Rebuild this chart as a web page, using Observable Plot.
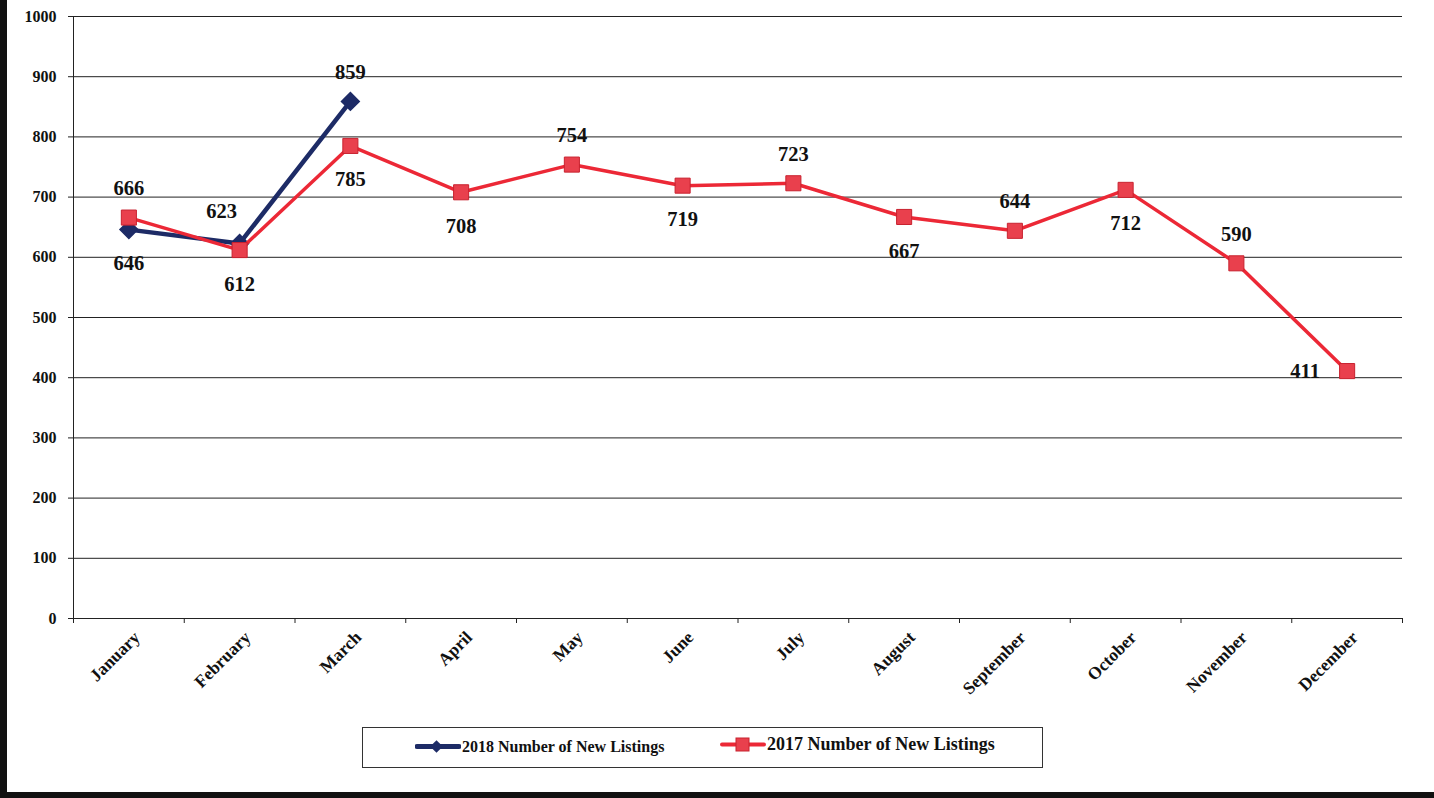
<!DOCTYPE html>
<html>
<head>
<meta charset="utf-8">
<script src="https://cdn.jsdelivr.net/npm/d3@7"></script>
<script src="https://cdn.jsdelivr.net/npm/@observablehq/plot@0.6"></script>
<style>
  html, body { margin: 0; padding: 0; background: #fff; }
  body { width: 1434px; height: 798px; position: relative; overflow: hidden; font-family: "Liberation Serif", "Times New Roman", serif; }
  #chart { position: absolute; left: 0; top: 0; }
  #chart g[aria-label="y-axis tick label"] text { font-size: 16px !important; font-weight: bold; }
  #chart g[aria-label="x-axis tick label"] text { font-size: 17.5px !important; font-weight: bold; }
  #legend { position: absolute; left: 362px; top: 727px; width: 679px; height: 39px; border: 1px solid #333; background: #fff; }
  .item { position: absolute; display: flex; align-items: center; font-weight: bold; color: #111; white-space: nowrap; }
  .item svg { margin-right: 1px; }
  #edgeL { position: absolute; left: 0; top: 0; width: 7px; height: 798px; background: #111; }
  #edgeB { position: absolute; left: 0; top: 792px; width: 1434px; height: 6px; background: #111; }
</style>
</head>
<body>
<div id="chart"></div>
<div id="legend"></div>
<div id="edgeL"></div>
<div id="edgeB"></div>
<script>
const months = ["January","February","March","April","May","June","July","August","September","October","November","December"];
const listings2018 = [646, 623, 859];
const listings2017 = [666, 612, 785, 708, 754, 719, 723, 667, 644, 712, 590, 411];
const yTicks = [0, 100, 200, 300, 400, 500, 600, 700, 800, 900, 1000];
const series2018Name = "2018 Number of New Listings";
const series2017Name = "2017 Number of New Listings";
const labelPlace2018 = ["below", "aboveleft", "above"];
const labelPlace2017 = ["above","below","below","below","above","below","above","below","above","below","above","left"];

const blue = "#1d2b66";
const red = "#ec2836";

const rows2018 = listings2018.map((v, i) => ({i, value: v, place: labelPlace2018[i]}));
const rows2017 = listings2017.map((v, i) => ({i, value: v, place: labelPlace2017[i]}));
const monthIdx = months.map((_, i) => i);
const boundaries = months.map((_, i) => i - 0.5).concat([months.length - 0.5]);
const allRows = rows2018.concat(rows2017);

const offsets = {
  above: {dx: 0, dy: -29},
  below: {dx: 0, dy: 34},
  left: {dx: -42, dy: 0},
  aboveleft: {dx: -18, dy: -32}
};
const labelMarks = Object.entries(offsets).map(([k, o]) =>
  Plot.text(allRows.filter(d => d.place === k), {
    x: "i", y: "value", text: d => String(d.value),
    dx: o.dx, dy: o.dy, fontSize: 20.5, fontWeight: "bold", fill: "#111"
  })
);

const chart = Plot.plot({
  width: 1434,
  height: 705,
  marginLeft: 73,
  marginRight: 32,
  marginTop: 16,
  marginBottom: 87,
  style: { fontFamily: "'Liberation Serif', 'Times New Roman', serif", fontWeight: "bold", fontSize: "16px", background: "transparent", color: "#111" },
  x: { type: "linear", domain: [-0.5, 11.5], label: null },
  y: { domain: [0, 1000], label: null },
  marks: [
    Plot.ruleY(yTicks, { stroke: "#222", strokeWidth: 1 }),
    Plot.ruleX([-0.5], { stroke: "#222", strokeWidth: 1 }),
    Plot.axisY(yTicks, { tickSize: 5, tickPadding: 12, tickFormat: d => String(d), label: null, stroke: "#222" }),
    Plot.axisX(boundaries, { tickSize: 5, tickFormat: () => "", label: null, stroke: "#222" }),
    Plot.axisX(monthIdx, { tickSize: 0, tickPadding: 16, tickFormat: i => months[i], tickRotate: -45, label: null, dx: 8 }),
    Plot.line(rows2018, { x: "i", y: "value", stroke: blue, strokeWidth: 4.5 }),
    Plot.dot(rows2018, { x: "i", y: "value", symbol: "diamond2", r: 8, fill: blue, stroke: blue }),
    Plot.line(rows2017, { x: "i", y: "value", stroke: red, strokeWidth: 3.5 }),
    Plot.dot(rows2017, { x: "i", y: "value", symbol: "square", r: 8.5, fill: "#e9404d", stroke: "#c8222f", strokeWidth: 1 }),
    ...labelMarks
  ]
});
document.getElementById("chart").appendChild(chart);

// legend
const legend = document.getElementById("legend");
function addItem(left, top, size, name, color, sym) {
  const div = document.createElement("div");
  div.className = "item";
  div.style.left = left + "px";
  div.style.top = top + "px";
  div.style.fontSize = size + "px";
  const marker = sym === "diamond"
    ? `<rect x="17" y="5" width="9" height="9" transform="rotate(45 21.5 9.5)" fill="${color}"/>`
    : `<rect x="16" y="3" width="13" height="13" fill="#e9404d" stroke="#c8222f"/>`;
  div.innerHTML = `<svg width="46" height="19"><line x1="2" y1="9.5" x2="44" y2="9.5" stroke="${color}" stroke-width="${sym === "diamond" ? 5 : 4}" stroke-linecap="round"/>${marker}</svg><span>${name}</span>`;
  legend.appendChild(div);
}
addItem(52, 9, 16, series2018Name, blue, "diamond");
addItem(357, 6, 18, series2017Name, red, "square");
</script>
</body>
</html>
